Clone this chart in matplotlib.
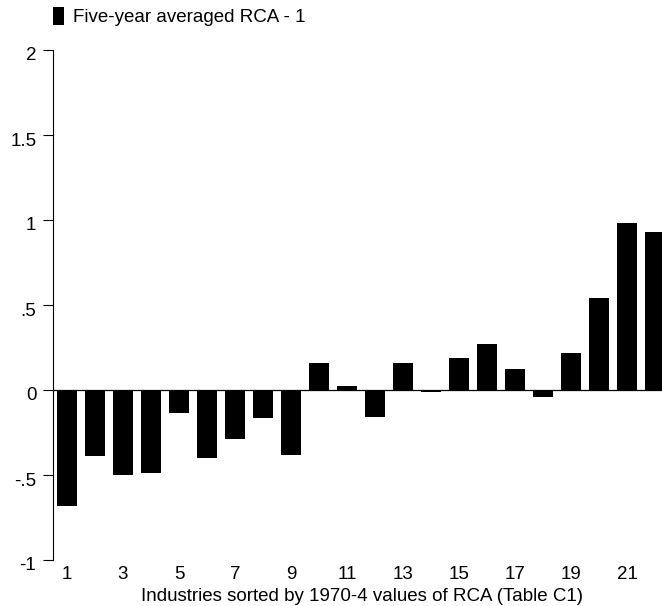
"""Five-year averaged RCA by industry, bar chart."""

import numpy as np
import matplotlib
matplotlib.use("Agg")
import matplotlib.pyplot as plt
import matplotlib.transforms as mtransforms

plt.rcParams['font.family'] = ['Liberation Sans', 'DejaVu Sans']

# Industries sorted by 1970-4 RCA, values are RCA - 1
industry = np.arange(1, 23)
rca_minus_1 = [-0.68, -0.39, -0.50, -0.49, -0.135, -0.40, -0.29, -0.165,
               -0.385, 0.157, 0.024, -0.16, 0.157, -0.013, 0.19, 0.27,
               0.124, -0.043, 0.218, 0.54, 0.984, 0.93]
xtick_pos = np.arange(1, 22, 2)
ytick_pos = [-1, -0.5, 0, 0.5, 1, 1.5, 2]
ytick_lab = ['-1', '-.5', '0', '.5', '1', '1.5', '2']

FS = 13.5

fig = plt.figure(figsize=(6.62, 6.06), dpi=100)
ax = fig.add_axes([53 / 662, 46 / 606, 609 / 662, 510 / 606])

bars = ax.bar(industry, rca_minus_1, width=0.7, color='black',
              label='Five-year averaged RCA - 1')
ax.axhline(0, color='black', linewidth=0.9, zorder=0)

ax.set_xlim(0.5, 22.25)
ax.set_ylim(-1, 2)
ax.set_yticks(ytick_pos)
ax.set_yticklabels(ytick_lab)
ax.set_xticks(xtick_pos)
ax.set_xticklabels([str(i) for i in xtick_pos])

for s in ['top', 'right', 'bottom']:
    ax.spines[s].set_visible(False)
ax.spines['left'].set_linewidth(0.8)

ax.tick_params(axis='y', length=7, width=0.8, pad=5, labelsize=FS)
ax.tick_params(axis='x', length=0, pad=4, labelsize=FS)

# y labels sit a little below their ticks
shift = mtransforms.ScaledTranslation(0, -4 / 100, fig.dpi_scale_trans)
for lab in ax.get_yticklabels():
    lab.set_transform(lab.get_transform() + shift)

ax.set_xlabel('Industries sorted by 1970-4 values of RCA (Table C1)',
              fontsize=FS, labelpad=0)
ax.xaxis.set_label_coords(0.507, -0.055)

fig.legend(handles=[bars], loc='upper left',
           bbox_to_anchor=(53 / 662, 1 - 7 / 606), frameon=False,
           fontsize=FS, handlelength=0.58, handleheight=1.1,
           handletextpad=0.5, borderpad=0, borderaxespad=0)

fig.savefig('out.png', dpi=100)
